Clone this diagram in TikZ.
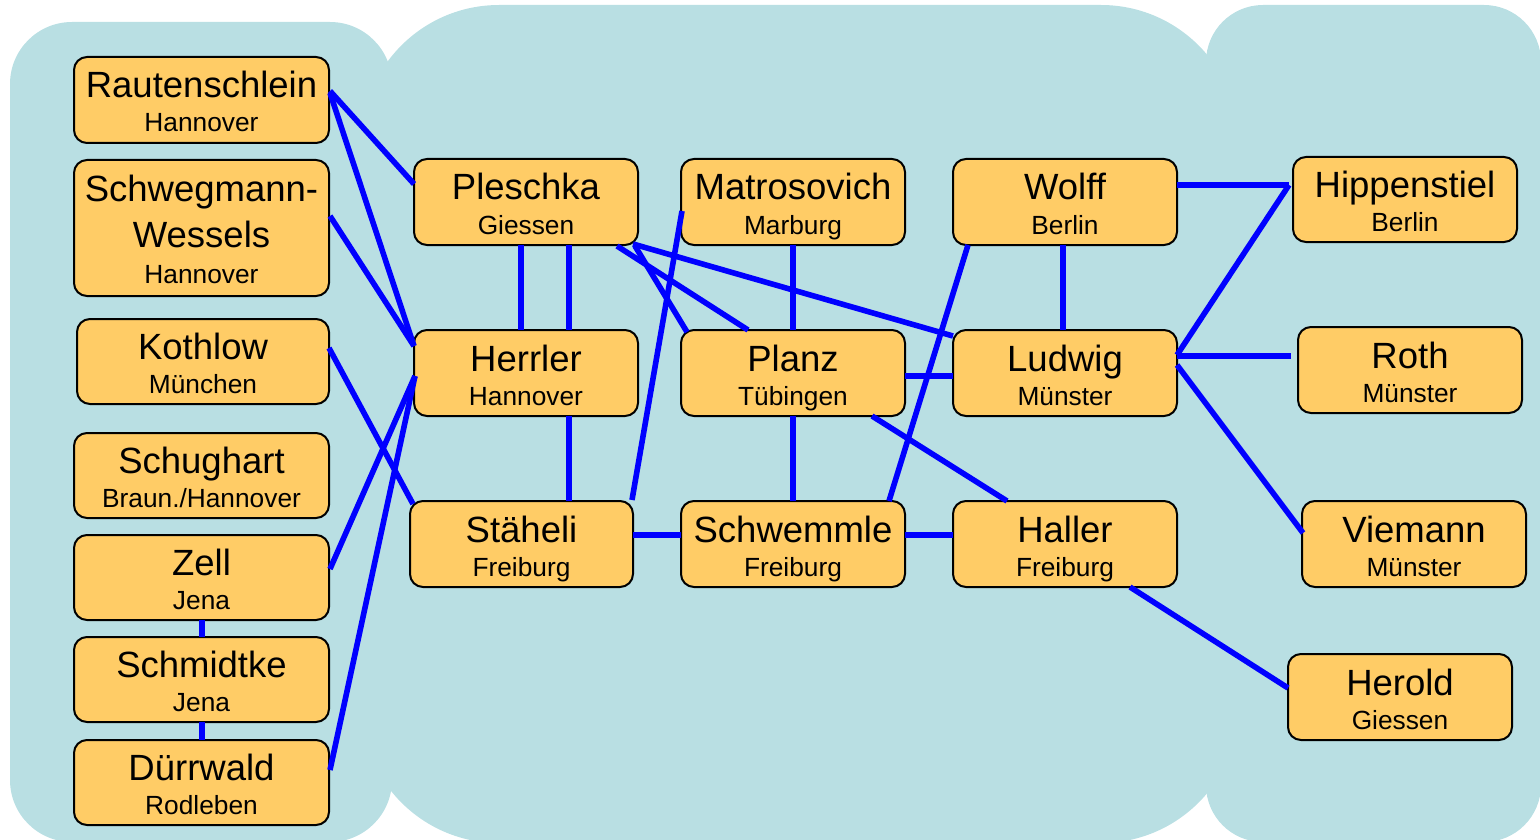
\documentclass[tikz,border=0pt]{standalone}
\usepackage{fontspec}
\setmainfont{Liberation Sans}
\usetikzlibrary{calc}
\definecolor{bgblue}{RGB}{185,223,227}
\definecolor{boxfill}{RGB}{255,204,102}
\definecolor{linkblue}{RGB}{0,0,255}
\newcommand\pers[7]{%
  \pgfmathsetmacro\pw{#4-#2}%
  \pgfmathsetmacro\ph{#5-#3}%
  \pgfmathsetmacro\pcx{(#2+#4)/2}%
  \pgfmathsetmacro\pcy{(#3+#5)/2}%
  \node[pbox, minimum width=\pw pt, minimum height=\ph pt] (#1) at (\pcx,\pcy) {};
  \node[nm] (#1-n) at ($(#1.center)+(0,-2)$) {#6};
  \node[ct] (#1-c) at ($(#1.center)+(0,32)$) {#7};
}
\begin{document}
\begin{tikzpicture}[x=1pt,y=-1pt,
  pbox/.style={draw=black, line width=2pt, fill=boxfill, rounded corners=13pt, inner sep=0pt, outer sep=0pt},
  nm/.style={font=\fontsize{36.5}{40}\selectfont, inner sep=0pt, anchor=base},
  ct/.style={font=\fontsize{26.3}{30}\selectfont, inner sep=0pt, anchor=base},
  conn/.style={draw=linkblue, line width=5.6pt}]
\useasboundingbox (0,0) rectangle (1540,840);
\begin{scope}
  \clip (0,0) rectangle (1540,840);
  \fill[bgblue, rounded corners=62pt] (10,22) rectangle (392,842);
  \fill[bgblue, rounded corners=138pt] (361,5) rectangle (1239,843);
  \fill[bgblue, rounded corners=57pt] (1206,5) rectangle (1541,842);
\end{scope}

% left column
\pers{raut}{74}{57}{329}{143}{Rautenschlein}{Hannover}
\node[pbox, minimum width=255pt, minimum height=136pt] (schw) at (201.5,228) {};
\node[nm] (schw-n1) at ($(schw.center)+(0,-27)$) {Schwegmann-};
\node[nm] (schw-n2) at ($(schw.center)+(0,19)$) {Wessels};
\node[ct] (schw-c) at ($(schw.center)+(0,55)$) {Hannover};
\pers{koth}{77}{319}{329}{404}{Kothlow}{München}
\pers{schu}{74}{433}{329}{518}{Schughart}{Braun./Hannover}
\pers{zell}{74}{535}{329}{620}{Zell}{Jena}
\pers{schm}{74}{637}{329}{722}{Schmidtke}{Jena}
\pers{durr}{74}{740}{329}{825}{Dürrwald}{Rodleben}

% middle
\pers{ples}{414}{159}{638}{245}{Pleschka}{Giessen}
\pers{herr}{414}{330}{638}{416}{Herrler}{Hannover}
\pers{stah}{410}{501}{633}{587}{Stäheli}{Freiburg}
\pers{matr}{681}{159}{905}{245}{Matrosovich}{Marburg}
\pers{planz}{681}{330}{905}{416}{Planz}{Tübingen}
\pers{schwem}{681}{501}{905}{587}{Schwemmle}{Freiburg}
\pers{wolff}{953}{159}{1177}{245}{Wolff}{Berlin}
\pers{ludw}{953}{330}{1177}{416}{Ludwig}{Münster}
\pers{haller}{953}{501}{1177}{587}{Haller}{Freiburg}

% right
\pers{hipp}{1293}{157}{1517}{242}{Hippenstiel}{Berlin}
\pers{roth}{1298}{327}{1522}{413}{Roth}{Münster}
\pers{viem}{1302}{501}{1526}{587}{Viemann}{Münster}
\pers{herold}{1288}{654}{1512}{740}{Herold}{Giessen}

% connectors
\draw[conn] ($(raut.north west)+(256,34)$) -- ($(ples.north west)+(0,25)$);
\draw[conn] ($(raut.north west)+(256,36)$) -- ($(herr.north west)+(0,16)$);
\draw[conn] ($(schw.north west)+(256,56)$) -- ($(herr.north west)+(0,16)$);
\draw[conn] ($(koth.north west)+(252,29)$) -- ($(stah.north west)+(3,3)$);
\draw[conn] ($(zell.north west)+(256,34)$) -- ($(herr.north west)+(1,46)$);
\draw[conn] ($(durr.north west)+(256,30)$) -- ($(herr.north west)+(1,46)$);
\draw[conn] ($(zell.north west)+(128,85)$) -- ($(schm.north west)+(128,0)$);
\draw[conn] ($(schm.north west)+(128,85)$) -- ($(durr.north west)+(128,0)$);
\draw[conn] ($(ples.north west)+(107,86)$) -- ($(herr.north west)+(107,0)$);
\draw[conn] ($(ples.north west)+(155,86)$) -- ($(herr.north west)+(155,0)$);
\draw[conn] ($(herr.north west)+(155,86)$) -- ($(stah.north west)+(159,0)$);
\draw[conn] ($(stah.north west)+(222,-1)$) -- ($(matr.north west)+(1,52)$);
\draw[conn] ($(ples.north west)+(203,87)$) -- ($(planz.north west)+(67,0)$);
\draw[conn] ($(ples.north west)+(221,87)$) -- ($(planz.north west)+(6,2)$);
\draw[conn] ($(ples.north west)+(219,85)$) -- ($(ludw.north west)+(0,6)$);
\draw[conn] ($(matr.north west)+(112,86)$) -- ($(planz.north west)+(112,0)$);
\draw[conn] ($(planz.north west)+(224,46)$) -- ($(ludw.north west)+(0,46)$);
\draw[conn] ($(planz.north west)+(112,86)$) -- ($(schwem.north west)+(112,0)$);
\draw[conn] ($(planz.north west)+(191,86)$) -- ($(haller.north west)+(54,0)$);
\draw[conn] ($(wolff.north west)+(15,86)$) -- ($(schwem.north west)+(208,0)$);
\draw[conn] ($(wolff.north west)+(110,86)$) -- ($(ludw.north west)+(110,0)$);
\draw[conn] ($(stah.north west)+(223,34)$) -- ($(schwem.north west)+(0,34)$);
\draw[conn] ($(schwem.north west)+(224,34)$) -- ($(haller.north west)+(0,34)$);
\draw[conn] ($(wolff.north west)+(224,26)$) -- ($(hipp.north west)+(-4,28)$);
\draw[conn] ($(ludw.north west)+(224,25)$) -- ($(hipp.north west)+(-4,28)$);
\draw[conn] ($(ludw.north west)+(224,26)$) -- ($(roth.north west)+(-7,29)$);
\draw[conn] ($(ludw.north west)+(224,35)$) -- ($(viem.north west)+(1,32)$);
\draw[conn] ($(haller.north west)+(177,86)$) -- ($(herold.north west)+(0,34)$);
\end{tikzpicture}
\end{document}
